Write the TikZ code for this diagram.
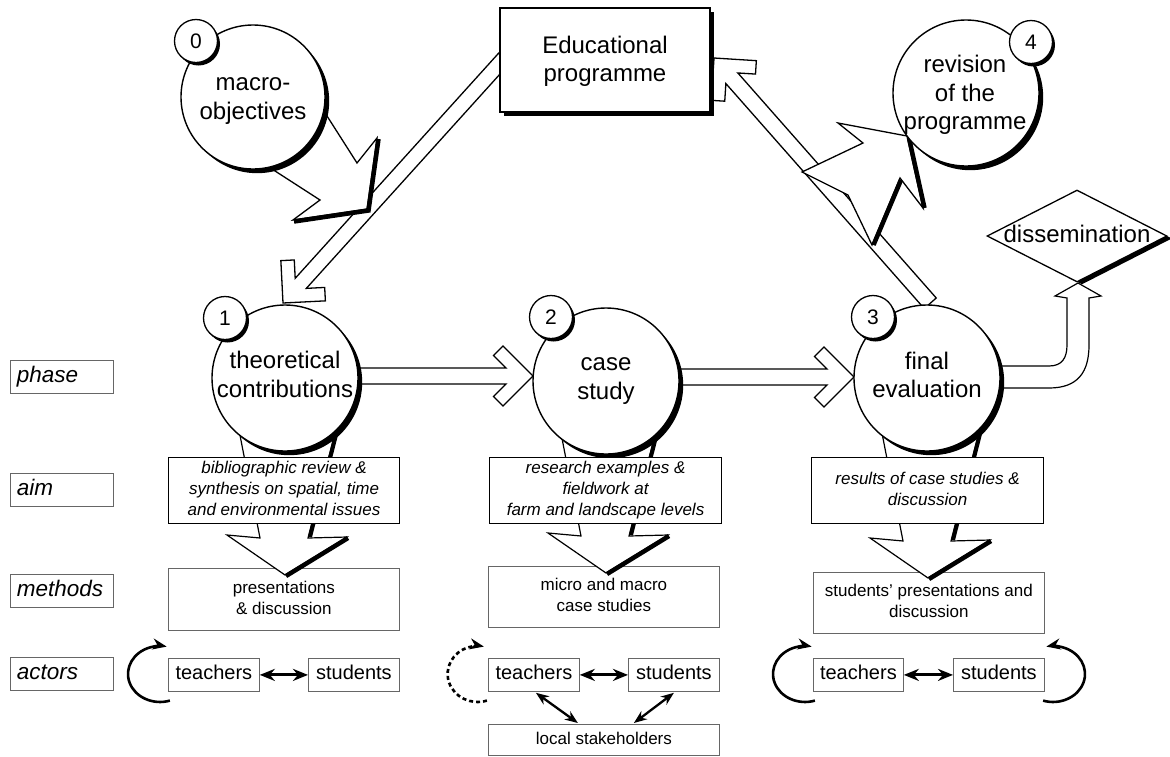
\documentclass[tikz,border=0pt]{standalone}
\usepackage{fontspec}
\setmainfont{Liberation Sans}
\usetikzlibrary{shapes.geometric,shadows,arrows.meta,calc}
\newcommand\fs[2]{\fontsize{#1}{#2}\selectfont}
% chevron block arrow: tip, canvas angle, shaft length, half width
\newcommand\chevarrow[4]{\begin{scope}[shift={#1},rotate=#2]
\draw[harrow] (-#3,-#4) -- ({-19-#4},-#4) -- (-39.5,-20.5) -- (-30,-30) -- (0,0) -- (-30,30) -- (-39.5,20.5) -- ({-19-#4},#4) -- (-#3,#4) -- cycle;
\end{scope}}
% downward leg arrow below a phase circle
\newcommand\legarrow[2]{\begin{scope}[shift={(#1,#2)}]
\draw[harrow, line width=1.2pt] (238,425) -- (260,538) -- (227,535) -- (285,575) -- (347,537) -- (308,538) -- (337,425) -- cycle;
\draw[line width=4pt] (338.5,425) -- (310,537);
\draw[line width=4.5pt, line join=miter] (348,538) -- (286,576);
\end{scope}}
\begin{document}
\begin{tikzpicture}[x=1pt,y=-1pt,
  harrow/.style={draw, fill=white, line width=1.3pt, line join=miter},
  big/.style={font=\fs{24}{28.5}, align=center, inner sep=0pt},
  bigc/.style={circle, draw, fill=white, line width=1.4pt, inner sep=0pt,
    general shadow={fill=black, shadow xshift=4.2pt, shadow yshift=-4.2pt}},
  numc/.style={circle, draw, fill=white, line width=1.3pt, minimum size=43pt, inner sep=0pt,
    font=\fs{21}{24}, general shadow={fill=black, shadow xshift=2.5pt, shadow yshift=-3pt}},
  thinbox/.style={draw=black!60, line width=0.8pt, anchor=north west, inner sep=0pt, align=center},
  aimbox/.style={draw, line width=1.1pt, fill=white, anchor=north west, inner sep=0pt, align=center, font=\fs{17}{21}\itshape},
  methbox/.style={thinbox, fill=white, font=\fs{17}{21}},
  actbox/.style={thinbox, font=\fs{20}{24}},
  lblbox/.style={draw=black!60, line width=0.8pt, anchor=north west, minimum height=33pt,
    text width=90pt, inner xsep=6.5pt, inner ysep=0pt, align=left, font=\fs{22.5}{26}\itshape},
  dbl/.style={line width=3pt, {Stealth[length=15pt,width=12pt]}-{Stealth[length=15pt,width=12pt]}},
  dbltwo/.style={line width=2.3pt, {Stealth[length=13pt,width=10pt]}-{Stealth[length=13pt,width=10pt]}},
  looparr/.style={line width=2.6pt, -{Stealth[length=14pt,width=11pt]}}
]
\useasboundingbox (0,0) rectangle (1170,756);

% ---------- hollow chevron arrows ----------
\chevarrow{(283,303)}{227.9}{330}{7.5}
\chevarrow{(714,58)}{131.4}{327}{8}
\chevarrow{(533,376)}{0}{180}{8}
\chevarrow{(854,377)}{0}{180}{8}

% dissemination arrow
\draw[harrow, line width=1.2pt] (995,366) -- (1049,366) .. controls (1062,366) and (1067,358) .. (1067,345)
  -- (1067,298) -- (1055,296) -- (1078,283) -- (1101,296) -- (1089,298) -- (1089,345)
  .. controls (1089,372) and (1078,388) .. (1049,388) -- (995,388) -- cycle;

% ---------- methods boxes ----------
\node[methbox, minimum width=231pt, minimum height=62pt] (m1) at (168,568) {\strut presentations\\\strut\& discussion};
\node[methbox, minimum width=231pt, minimum height=61pt] (m2) at (488,566) {\strut micro and macro\\\strut case studies};
\node[methbox, minimum width=231pt, minimum height=61pt] (m3) at (813,572) {\strut students' presentations and\\\strut discussion};

% ---------- leg arrows ----------
\legarrow{0}{0}
\legarrow{321}{-2}
\legarrow{643}{3}

% ---------- 3D arrows ----------
\draw[harrow] (320,105) -- (357,163) -- (377,138) -- (367,209) -- (293,220) -- (320,200) -- (258,160) -- cycle;
\draw[line width=4.5pt, line join=miter] (378.5,139) -- (368.5,210.5) -- (294,221.5);

\draw[harrow] (907,136) -- (838,123) -- (863,143) -- (802,172) -- (848,195) -- (872,245) -- (900,178) -- (923,208) -- cycle;
\draw[line width=4.5pt] (873.5,245) -- (901,180);
\draw[line width=4.5pt] (924.5,208) -- (909,138);

% ---------- circles ----------
\node[bigc, minimum size=144pt] (c0) at (253,97) {};
\node[bigc, minimum size=146pt] (c1) at (285,378) {};
\node[bigc, minimum size=146pt] (c2) at (606,381) {};
\node[bigc, minimum size=146pt] (c3) at (927,378) {};
\node[bigc, minimum size=146pt] (c4) at (966,93) {};

\node[big] (c0t) at (253,99.5) {\strut macro-\\\strut objectives};
\node[big] (c1t) at (285,377.5) {\strut theoretical\\\strut contributions};
\node[big] (c2t) at (606,379.5) {\strut case\\\strut study};
\node[big] (c3t) at (927,378) {\strut final\\\strut evaluation};
\node[big] (c4t) at (965,95.5) {\strut revision\\\strut of the\\\strut programme};

\node[numc] (n0) at (196,41) {0};
\node[numc] (n1) at (225,318) {1};
\node[numc] (n2) at (551,317) {2};
\node[numc] (n3) at (873,317) {3};
\node[numc] (n4) at (1031,42) {4};

% ---------- educational programme ----------
\node[draw, fill=white, line width=1.5pt, minimum width=210pt, minimum height=104pt, inner sep=0pt,
  font=\fs{24}{28.5}, align=center,
  general shadow={fill=black, shadow xshift=4pt, shadow yshift=-4pt}] (ep) at (605,60) {};
\node[big] (ept) at (605,62) {\strut Educational\\\strut programme};

% ---------- dissemination ----------
\node[diamond, draw, fill=white, line width=1.3pt, minimum width=180pt, minimum height=92pt, inner sep=0pt,
  general shadow={fill=black, shadow xshift=5pt, shadow yshift=-2.5pt}] (dis) at (1077,236) {};
\node[big] (dist) at (1077,236.3) {\strut dissemination};

% ---------- aim boxes ----------
\node[aimbox, minimum width=231pt, minimum height=66pt] (a1) at (168,457) {\strut bibliographic review \&\\\strut synthesis on spatial, time\\\strut and environmental issues};
\node[aimbox, minimum width=232pt, minimum height=66pt] (a2) at (489,457) {\strut research examples \&\\\strut fieldwork at\\\strut farm and landscape levels};
\node[aimbox, minimum width=232pt, minimum height=66pt] (a3) at (811,457) {\strut results of case studies \&\\\strut discussion};

% ---------- row labels ----------
\node[lblbox] (lphase) at (10,360) {\strut phase};
\node[lblbox] (laim) at (10,473) {\strut aim};
\node[lblbox] (lmeth) at (10,574) {\strut methods};
\node[lblbox] (lact) at (10,657) {\strut actors};

% ---------- actors ----------
\node[actbox, minimum width=91pt, minimum height=33pt] (t1) at (168,658) {\strut teachers};
\node[actbox, minimum width=91pt, minimum height=33pt] (s1) at (308,658) {\strut students};
\node[actbox, minimum width=91pt, minimum height=33pt] (t2) at (488,658) {\strut teachers};
\node[actbox, minimum width=91pt, minimum height=33pt] (s2) at (628,658) {\strut students};
\node[actbox, minimum width=231pt, minimum height=31pt, font=\fs{17}{21}] (ls) at (488,724) {\strut local stakeholders};
\node[actbox, minimum width=90pt, minimum height=33pt] (t3) at (813,658) {\strut teachers};
\node[actbox, minimum width=91pt, minimum height=33pt] (s3) at (953,658) {\strut students};

\draw[dbl] (t1) -- (s1);
\draw[dbl] (t2) -- (s2);
\draw[dbl] (t3) -- (s3);
\draw[dbltwo] ($(t2.south)+(2,1)$) -- ($(ls.north)+(-26,-1)$);
\draw[dbltwo] ($(s2.south)+(0,1)$) -- ($(ls.north)+(30,-1)$);

% loops
\coordinate (lp1) at (169.9,700.6);
\coordinate (lp2) at (486.9,700.6);
\coordinate (lp3) at (814.9,700.6);
\coordinate (lp4) at (1043.1,700.6);
\draw[looparr] (lp1) arc[start angle=-72, end angle=-282, x radius=32pt, y radius=28pt];
\draw[looparr, dash pattern=on 4pt off 3pt] (lp2) arc[start angle=-72, end angle=-282, x radius=30pt, y radius=28pt];
\draw[looparr] (lp3) arc[start angle=-72, end angle=-282, x radius=32pt, y radius=28pt];
\draw[looparr] (lp4) arc[start angle=-108, end angle=102, x radius=32pt, y radius=28pt];
\end{tikzpicture}
\end{document}
